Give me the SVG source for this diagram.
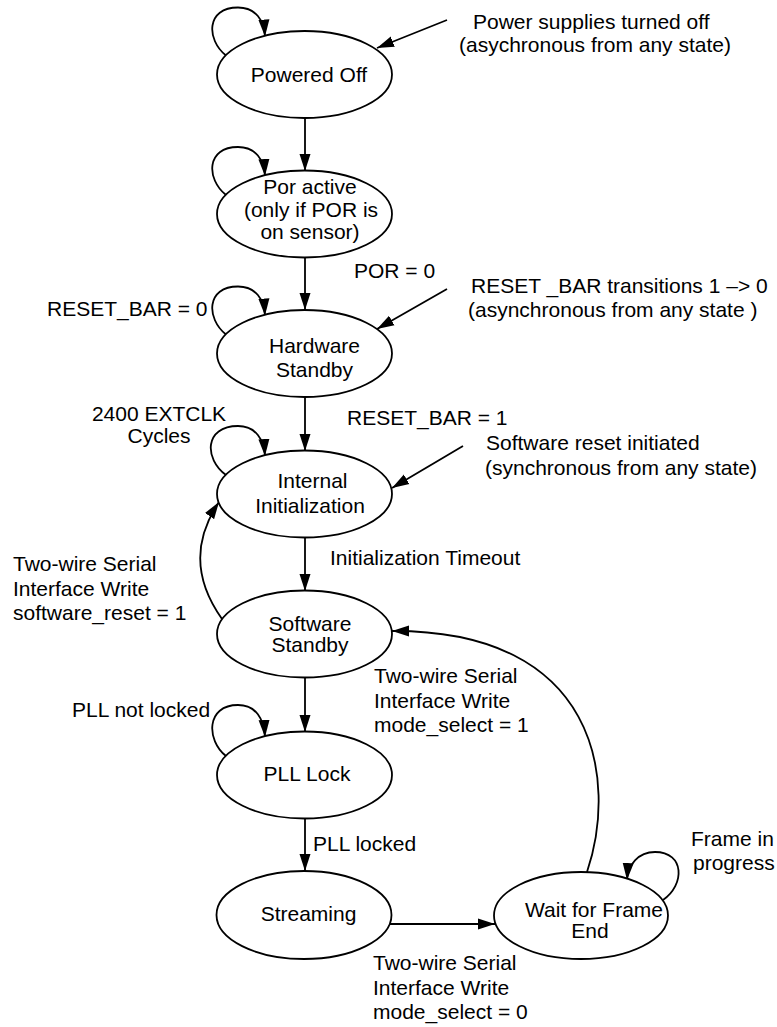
<svg xmlns="http://www.w3.org/2000/svg" width="777" height="1027" viewBox="0 0 777 1027">
<style>
.node ellipse{fill:#fff;stroke:#000;stroke-width:1.8}
.edge{fill:none;stroke:#000;stroke-width:1.8;marker-end:url(#arr)}
text{font-family:"Liberation Sans",Arial,Helvetica,sans-serif;font-size:21px;fill:#000}
.c{text-anchor:middle}
</style>
<defs>
<marker id="arr" markerUnits="userSpaceOnUse" markerWidth="18" markerHeight="12" refX="17" refY="6" orient="auto">
<path d="M0,0.5 L17,6 L0,11.5 z" fill="#000"/>
</marker>
</defs>
<rect width="777" height="1027" fill="#fff"/>
<g id="connectors">
<path class="edge" d="M305,118 L305,171"/>
<path class="edge" d="M305,257 L305,310"/>
<path class="edge" d="M305,397 L305,451"/>
<path class="edge" d="M305,537 L305,591"/>
<path class="edge" d="M305,677 L305,732"/>
<path class="edge" d="M305,818 L305,871"/>
<path class="edge" d="M390,924 L495,924"/>
<path class="edge" d="M447,20 L377,48"/>
<path class="edge" d="M447,289 L377,329"/>
<path class="edge" d="M463,446 L392,488"/>
<path class="edge" d="M222,619 Q180,560 219,502"/>
<path class="edge" d="M587,872 C618,780 598,630 392,631"/>
<path class="edge" transform="translate(305,74.5)" d="M-79,-19 C-99,-35 -99,-67 -67,-67 C-49,-67 -41,-54 -40,-38"/>
<path class="edge" transform="translate(305,214)" d="M-79,-19 C-99,-35 -99,-67 -67,-67 C-49,-67 -41,-54 -40,-38"/>
<path class="edge" transform="translate(305,353.5)" d="M-79,-19 C-99,-35 -99,-67 -67,-67 C-49,-67 -41,-54 -40,-38"/>
<path class="edge" transform="translate(305,494)" d="M-79,-19 C-101,-35 -101,-68 -67,-68 C-49,-68 -41,-54 -40,-38"/>
<path class="edge" transform="translate(305,775)" d="M-79,-19 C-99,-35 -99,-70 -67,-70 C-49,-70 -41,-56 -40,-38"/>
<path class="edge" d="M663,900 C685,885 685,852 655,852 C638,852 628,865 627,880"/>
</g>
<g id="edge-labels">
<text x="473" y="29">Power supplies turned off</text>
<text x="459" y="52">(asychronous from any state)</text>
<text x="354" y="278">POR = 0</text>
<text x="47" y="316">RESET_BAR = 0</text>
<text x="471" y="293">RESET _BAR transitions 1 –&gt; 0</text>
<text x="468" y="317">(asynchronous from any state )</text>
<text class="c" x="159" y="421">2400 EXTCLK</text>
<text class="c" x="159" y="443">Cycles</text>
<text x="347" y="425">RESET_BAR = 1</text>
<text x="486" y="450">Software reset initiated</text>
<text x="485" y="475">(synchronous from any state)</text>
<text x="330" y="565">Initialization Timeout</text>
<text x="13" y="571">Two-wire Serial</text>
<text x="13" y="595.5">Interface Write</text>
<text x="13" y="620">software_reset = 1</text>
<text x="374" y="683">Two-wire Serial</text>
<text x="374" y="708">Interface Write</text>
<text x="374" y="732">mode_select = 1</text>
<text x="72" y="717">PLL not locked</text>
<text x="313" y="851">PLL locked</text>
<text x="691" y="846">Frame in</text>
<text x="693" y="870">progress</text>
<text x="373" y="970">Two-wire Serial</text>
<text x="373" y="995">Interface Write</text>
<text x="373" y="1019">mode_select = 0</text>
</g>
<g id="powered-off" class="node">
<ellipse cx="304.5" cy="74.5" rx="87.5" ry="43.5"/>
<text class="c" x="309" y="82">Powered Off</text>
</g>
<g id="por-active" class="node">
<ellipse cx="304.5" cy="214" rx="87.5" ry="43.5"/>
<text class="c" x="310" y="194">Por active</text>
<text class="c" x="311" y="216.5">(only if POR is</text>
<text class="c" x="310" y="238.5">on sensor)</text>
</g>
<g id="hardware-standby" class="node">
<ellipse cx="304.5" cy="353.5" rx="87.5" ry="43.5"/>
<text class="c" x="314.5" y="353">Hardware</text>
<text class="c" x="314.5" y="377">Standby</text>
</g>
<g id="internal-initialization" class="node">
<ellipse cx="304.5" cy="494" rx="87.5" ry="43.5"/>
<text class="c" x="312.5" y="488">Internal</text>
<text class="c" x="310" y="513">Initialization</text>
</g>
<g id="software-standby" class="node">
<ellipse cx="304.5" cy="634" rx="87.5" ry="43.5"/>
<text class="c" x="310" y="631">Software</text>
<text class="c" x="310" y="652">Standby</text>
</g>
<g id="pll-lock" class="node">
<ellipse cx="304.5" cy="775" rx="87.5" ry="43.5"/>
<text class="c" x="307" y="781">PLL Lock</text>
</g>
<g id="streaming" class="node">
<ellipse cx="304" cy="915" rx="87.5" ry="44"/>
<text class="c" x="308.5" y="921">Streaming</text>
</g>
<g id="wait-for-frame-end" class="node">
<ellipse cx="581" cy="915.5" rx="87" ry="43.5"/>
<text class="c" x="594" y="917">Wait for Frame</text>
<text class="c" x="590" y="938">End</text>
</g>
</svg>
